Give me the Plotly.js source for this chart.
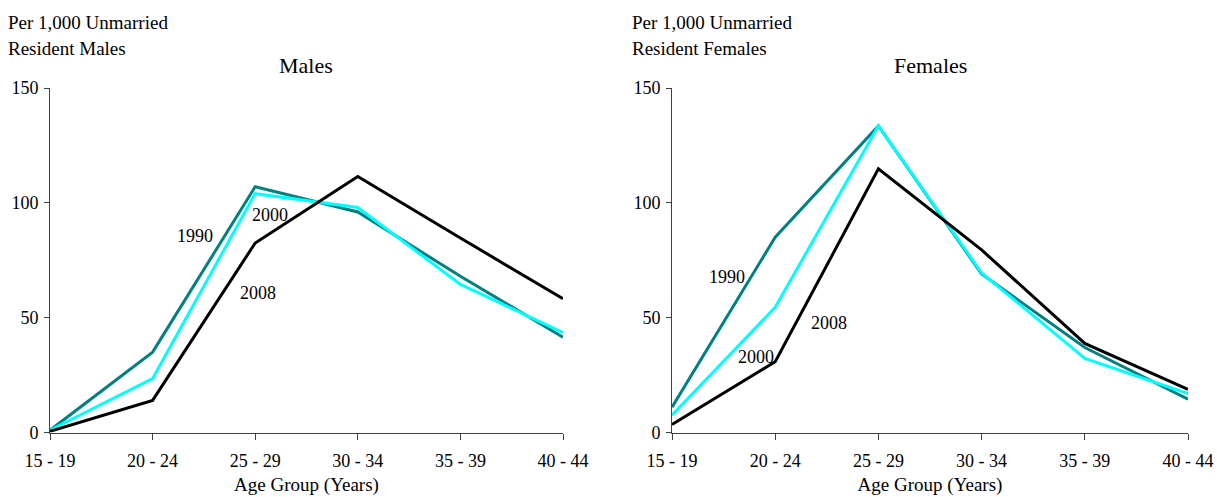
<!DOCTYPE html>
<html>
<head>
<meta charset="utf-8">
<script src="https://cdn.plot.ly/plotly-3.0.1.min.js"></script>
<style>html,body{margin:0;padding:0;background:#fff;}#chart{width:1217px;height:497px;}</style>
</head>
<body>
<div id="chart"></div>
<script>
const ageGroups = ["15 - 19", "20 - 24", "25 - 29", "30 - 34", "35 - 39", "40 - 44"];
const years = ["1990", "2000", "2008"];
const males1990 = [1, 35, 107, 96, 68, 41.5];
const males2000 = [1, 23.5, 104, 98, 64.5, 43.5];
const males2008 = [0.5, 14, 82.5, 111.5, 84.7, 58.2];
const females1990 = [11, 85, 133.5, 69, 37, 14.5];
const females2000 = [7.5, 54.5, 133.5, 69.5, 32.3, 17];
const females2008 = [3.5, 30.8, 114.8, 79.5, 38.8, 18.8];
const yTicks = [0, 50, 100, 150];
const colors = ["#008080", "#00FFFF", "#000000"];

const F = '"Liberation Serif", "Times New Roman", Times, serif';
function tr(y, i, xa, ya) {
  return {x: ageGroups, y: y, name: years[i], type: "scatter", mode: "lines",
    line: {color: colors[i], width: 3}, xaxis: xa, yaxis: ya, cliponaxis: false, showlegend: false};
}
const data = [
  tr(males1990, 0, "x", "y"), tr(males2000, 1, "x", "y"), tr(males2008, 2, "x", "y"),
  tr(females1990, 0, "x2", "y2"), tr(females2000, 1, "x2", "y2"), tr(females2008, 2, "x2", "y2")
];
const xCommon = {type: "category", range: [0, 5], showgrid: false, zeroline: false, showline: true,
  linecolor: "#404040", linewidth: 1, ticks: "outside", ticklen: 6, tickcolor: "#404040",
  ticklabelstandoff: 6,
  tickfont: {family: F, size: 18, color: "#000"}, fixedrange: true,
  title: {text: "Age Group (Years)", font: {family: F, size: 19, color: "#000"}, standoff: 7}};
const yCommon = {range: [0, 150], tickvals: yTicks, showgrid: false, zeroline: false, showline: true,
  linecolor: "#404040", linewidth: 1, ticks: "outside", ticklen: 5, tickcolor: "#404040",
  ticklabelstandoff: 2,
  tickfont: {family: F, size: 18, color: "#000"}, fixedrange: true};
const pann = (x, y, t, size, anchor) => ({x: x / 1217, y: 1 - y / 497, xref: "paper", yref: "paper", text: t,
  showarrow: false, xanchor: anchor, yanchor: "middle", font: {family: F, size: size, color: "#000"}});
const layout = {
  width: 1217, height: 497, margin: {l: 0, r: 0, t: 0, b: 0},
  paper_bgcolor: "#fff", plot_bgcolor: "#fff",
  font: {family: F},
  xaxis: Object.assign({}, xCommon, {domain: [50 / 1217, 563 / 1217], anchor: "y"}),
  yaxis: Object.assign({}, yCommon, {domain: [1 - 432.5 / 497, 1 - 88 / 497], anchor: "x"}),
  xaxis2: Object.assign({}, xCommon, {domain: [672 / 1217, 1188 / 1217], anchor: "y2"}),
  yaxis2: Object.assign({}, yCommon, {domain: [1 - 432.5 / 497, 1 - 88 / 497], anchor: "x2"}),
  annotations: [
    pann(6, 23, "Per 1,000 Unmarried", 19, "left"),
    pann(6, 49, "Resident Males", 19, "left"),
    pann(630, 23, "Per 1,000 Unmarried", 19, "left"),
    pann(630, 49, "Resident Females", 19, "left"),
    pann(306, 66, "Males", 22, "center"),
    pann(930, 66, "Females", 22, "center"),
    pann(195, 236, "1990", 18, "center"),
    pann(270, 215, "2000", 18, "center"),
    pann(258, 293, "2008", 18, "center"),
    pann(727, 277, "1990", 18, "center"),
    pann(756, 357, "2000", 18, "center"),
    pann(829, 323, "2008", 18, "center")
  ]
};
Plotly.newPlot("chart", data, layout, {displayModeBar: false, staticPlot: true});
</script>
</body>
</html>
